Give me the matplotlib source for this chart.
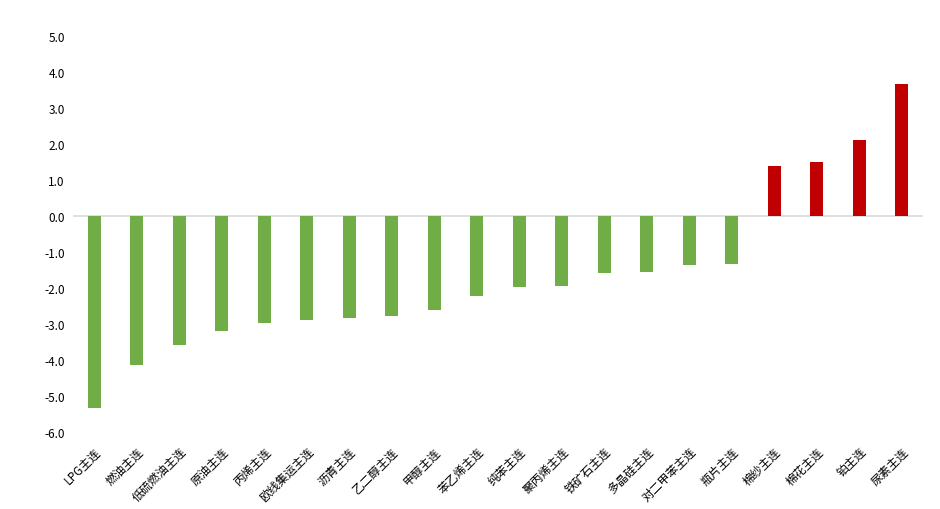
import matplotlib
matplotlib.use("Agg")
import matplotlib.pyplot as plt
import numpy as np

plt.rcParams["font.family"] = ["Noto Sans CJK SC", "DejaVu Sans"]

names = ["LPG主连", "燃油主连", "低硫燃油主连", "原油主连", "丙烯主连", "欧线集运主连",
         "沥青主连", "乙二醇主连", "甲醇主连", "苯乙烯主连", "纯苯主连", "聚丙烯主连",
         "铁矿石主连", "多晶硅主连", "对二甲苯主连", "瓶片主连", "棉纱主连", "棉花主连",
         "铂主连", "尿素主连"]
values = [-5.33, -4.14, -3.57, -3.19, -2.96, -2.88, -2.82, -2.77, -2.60, -2.21,
          -1.96, -1.94, -1.57, -1.55, -1.35, -1.32, 1.39, 1.50, 2.11, 3.67]
yticks = np.arange(-6, 6, 1)

colors = ["#C00000" if v > 0 else "#70AD47" for v in values]

fig = plt.figure(figsize=(9.4, 5.1), dpi=100)
ax = fig.add_axes([73 / 940, 1 - 433 / 510, 850 / 940, 396 / 510])
x = np.arange(len(names))
ax.bar(x, values, width=0.31, color=colors, zorder=2)
ax.axhline(0, color="#D9D9D9", linewidth=1.2, zorder=1)

ax.set_xlim(-0.5, len(names) - 0.5)
ax.set_ylim(-6, 5)
ax.set_yticks(yticks)
ax.set_yticklabels([f"{v:.1f}" for v in yticks], fontsize=8.5)
ax.set_xticks(x)
ax.set_xticklabels(names, rotation=45, ha="right", va="top",
                   rotation_mode="anchor", fontsize=8.5)
ax.tick_params(axis="y", length=0, pad=6)
ax.tick_params(axis="x", length=0, pad=9)
for s in ax.spines.values():
    s.set_visible(False)

fig.savefig("out.png", dpi=100, facecolor="white")
